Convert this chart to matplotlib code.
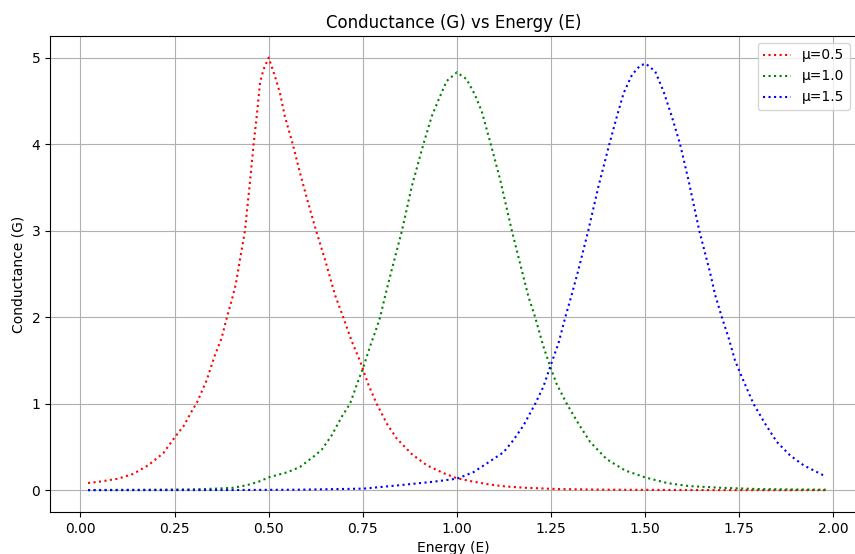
import numpy as np
import matplotlib
matplotlib.use('Agg')
import matplotlib.pyplot as plt

plt.rcParams['font.size'] = 10

# values
E_05 = [0.02, 0.05, 0.10, 0.14, 0.18, 0.22, 0.25, 0.275, 0.295, 0.31, 0.335, 0.357, 0.375, 0.389,
        0.402, 0.413, 0.425, 0.437, 0.449, 0.46, 0.47, 0.477, 0.486, 0.50, 0.517, 0.53, 0.543,
        0.564, 0.583, 0.605, 0.626, 0.65, 0.676, 0.698, 0.721, 0.743, 0.765, 0.787, 0.814, 0.84,
        0.88, 0.92, 0.964, 1.0, 1.044, 1.09, 1.13, 1.18, 1.27, 1.4, 1.55, 1.7, 1.85, 1.98]
G_05 = [0.085, 0.10, 0.135, 0.19, 0.29, 0.43, 0.61, 0.75, 0.91, 1.02, 1.27, 1.56, 1.76, 2.0,
        2.20, 2.39, 2.70, 3.0, 3.51, 4.0, 4.40, 4.71, 4.86, 5.0, 4.78, 4.59, 4.32,
        4.0, 3.67, 3.32, 3.0, 2.66, 2.26, 2.0, 1.72, 1.49, 1.22, 1.0, 0.77, 0.60,
        0.42, 0.29, 0.20, 0.14, 0.10, 0.065, 0.045, 0.03, 0.015, 0.008, 0.005, 0.003, 0.002, 0.002]

E_10 = [0.02, 0.1, 0.2, 0.3, 0.362, 0.406, 0.442, 0.473, 0.50, 0.55, 0.583, 0.619, 0.641, 0.668,
        0.694, 0.716, 0.734, 0.752, 0.769, 0.783, 0.796, 0.809, 0.827, 0.854, 0.88, 0.911, 0.933,
        0.951, 0.973, 1.0, 1.026, 1.048, 1.066, 1.09, 1.115, 1.146, 1.172, 1.19, 1.208, 1.23,
        1.248, 1.265, 1.292, 1.323, 1.354, 1.398, 1.447, 1.5, 1.558, 1.615, 1.7, 1.8, 1.9, 1.98]
G_10 = [0.004, 0.006, 0.008, 0.012, 0.02, 0.03, 0.06, 0.10, 0.15, 0.21, 0.27, 0.39, 0.47, 0.64,
        0.85, 1.0, 1.22, 1.43, 1.66, 1.83, 2.0, 2.24, 2.55, 3.0, 3.51, 4.0, 4.32,
        4.51, 4.73, 4.83, 4.75, 4.57, 4.38, 4.0, 3.59, 3.0, 2.55, 2.24, 2.0, 1.66,
        1.43, 1.23, 1.0, 0.77, 0.56, 0.36, 0.23, 0.15, 0.085, 0.05, 0.03, 0.015, 0.01, 0.008]

E_15 = [0.02, 0.2, 0.4, 0.583, 0.752, 0.849, 0.938, 1.0, 1.044, 1.079, 1.11, 1.124, 1.15, 1.177,
        1.208, 1.23, 1.248, 1.27, 1.288, 1.305, 1.323, 1.349, 1.376, 1.405, 1.425, 1.443, 1.465,
        1.487, 1.502, 1.527, 1.549, 1.571, 1.593, 1.615, 1.644, 1.673, 1.686, 1.704, 1.722,
        1.739, 1.757, 1.788, 1.819, 1.85, 1.885, 1.921, 1.98]
G_15 = [0.002, 0.003, 0.004, 0.008, 0.02, 0.06, 0.10, 0.135, 0.21, 0.31, 0.40, 0.44, 0.58, 0.75,
        1.0, 1.20, 1.43, 1.70, 2.0, 2.26, 2.55, 3.0, 3.51, 4.0, 4.32, 4.59, 4.80,
        4.91, 4.93, 4.84, 4.61, 4.32, 4.0, 3.59, 3.0, 2.51, 2.26, 2.0, 1.76,
        1.50, 1.31, 1.0, 0.77, 0.56, 0.405, 0.29, 0.16]

series = [(E_05, G_05, 'red', 'μ=0.5'),
          (E_10, G_10, 'green', 'μ=1.0'),
          (E_15, G_15, 'blue', 'μ=1.5')]

fig = plt.figure(figsize=(8.55, 5.54), dpi=100)
# right spine sits just past the image edge, like the cropped reference
ax = fig.add_axes([50/855, 42/554, 807/855, 476/554])

for E, G, col, lab in series:
    ax.plot(E, G, linestyle=':', color=col, label=lab)

ax.set_title('Conductance (G) vs Energy (E)', fontsize=12)
ax.set_xlabel('Energy (E)')
ax.set_ylabel('Conductance (G)')
ax.set_xticks(np.arange(0, 2.01, 0.25))
ax.set_xlim(-0.081, 2.063)
ax.set_ylim(-0.25, 5.25)
ax.grid(True)
ax.legend(loc='upper right')

plt.savefig('out.png', dpi=100)
